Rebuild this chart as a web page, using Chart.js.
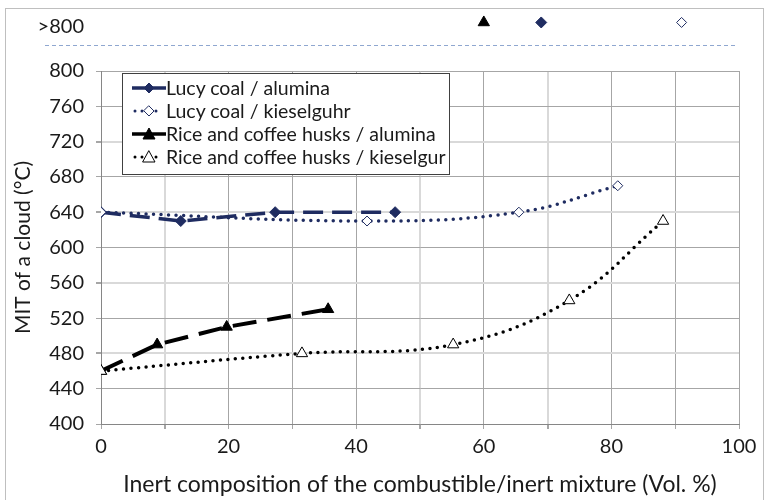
<!DOCTYPE html>
<html>
<head>
<meta charset="utf-8">
<script src="https://cdn.jsdelivr.net/npm/chart.js@4.4.1/dist/chart.umd.min.js"></script>
<style>
  html, body { margin: 0; padding: 0; background: #fff; overflow: hidden; }
  #wrap { position: relative; width: 771px; height: 500px; }
  #frame { position: absolute; left: 5px; top: 8px; width: 757px; height: 520px; border: 1px solid #bfbfbf; }
  #legend {
    position: absolute; left: 122px; top: 73px; width: 326px; height: 98px;
    border: 1px solid #404040; background: #fff;
    font-family: Lato, sans-serif; font-size: 19.5px; color: #1a1a1a;
    padding-top: 2px; box-sizing: content-box;
  }
  .row { display: flex; align-items: center; height: 23px; }
  .row canvas { margin-left: 9px; margin-right: 0px; }
</style>
</head>
<body>
<div id="wrap">
  <div id="frame"></div>
  <canvas id="chart" width="771" height="500"></canvas>
  <div id="legend"></div>
</div>
<script>
// x = inert composition (vol. %), y = MIT of a cloud (°C)
const lucyAluminaX = [0, 12.5, 27.3, 46.1];
const lucyAluminaY = [640, 630, 640, 640];
const lucyKieselX = [0, 41.7, 65.5, 81];
const lucyKieselY = [640, 630, 640, 670];
const riceAluminaX = [0, 8.8, 19.7, 35.6];
const riceAluminaY = [460, 490, 510, 530];
const riceKieselX = [0, 31.5, 55.2, 73.4, 88.1];
const riceKieselY = [460, 480, 490, 540, 630];

// compositions where MIT was above 800 °C
const lucyAluminaAbove = [69];
const lucyKieselAbove = [91];
const riceAluminaAbove = [60];

const seriesNames = ['Lucy coal / alumina', 'Lucy coal / kieselguhr', 'Rice and coffee husks / alumina', 'Rice and coffee husks / kieselgur'];
const yTicks = [400, 440, 480, 520, 560, 600, 640, 680, 720, 760, 800];
const xTickLabels = [0, 20, 40, 60, 80, 100];

const OVER_ROW = 855;   // display row for ">800" markers
const OVER_LINE = 829;  // dashed separator

const NAVY = '#1f2c61';
const FONT = 'Lato, sans-serif';
const TEXT = '#1a1a1a';

const pts = (xs, ys) => xs.map((x, i) => ({ x, y: ys[i] }));
const over = xs => xs.map(x => ({ x, y: OVER_ROW }));

const styles = [
  { color: NAVY, fill: NAVY, point: 'rectRot', r: 5.5, dash: [20, 9], width: 3.5, tension: 0 },
  { color: NAVY, fill: '#fff', point: 'rectRot', r: 5, dash: [0, 7.5], width: 3.5, tension: 0.4 },
  { color: '#000', fill: '#000', point: 'triangle', r: 6.5, dash: [24, 11], width: 4, tension: 0 },
  { color: '#000', fill: '#fff', point: 'triangle', r: 6.5, dash: [0, 7.5], width: 3.5, tension: 0.4 },
];

const mainData = [
  pts(lucyAluminaX, lucyAluminaY),
  pts(lucyKieselX, lucyKieselY),
  pts(riceAluminaX, riceAluminaY),
  pts(riceKieselX, riceKieselY),
];
const overData = [over(lucyAluminaAbove), over(lucyKieselAbove), over(riceAluminaAbove), []];

const datasets = [];
mainData.forEach((d, i) => {
  const s = styles[i];
  datasets.push({
    label: seriesNames[i], data: d,
    borderColor: s.color, borderWidth: s.width, borderDash: s.dash, borderCapStyle: s.dash[0] === 0 ? 'round' : 'butt',
    tension: s.tension, pointStyle: s.point, pointRadius: s.r,
    pointBackgroundColor: s.fill, pointBorderColor: s.color, pointBorderWidth: 1,
    order: 4 - i
  });
});
overData.forEach((d, i) => {
  if (!d.length) return;
  const s = styles[i];
  datasets.push({
    label: seriesNames[i] + ' (>800)', data: d, showLine: false, clip: false, over: true,
    pointStyle: s.point, pointRadius: s.r, pointBackgroundColor: s.fill,
    pointBorderColor: s.color, pointBorderWidth: 1
  });
});

const lightX = [10, 50, 70];
const lightY = [480, 560, 640, 720];

// ">800" row above the plot: label, separator and the markers outside the y range
const overRowPlugin = {
  id: 'overRow',
  afterDatasetsDraw(chart) {
    const ctx = chart.ctx;
    const y = chart.scales.y;
    ctx.save();
    ctx.font = '20px ' + FONT;
    ctx.fillStyle = TEXT;
    ctx.textAlign = 'right';
    ctx.textBaseline = 'middle';
    ctx.fillText('>800', 84, y.getPixelForValue(850));
    ctx.strokeStyle = '#8fa7d0';
    ctx.lineWidth = 1;
    ctx.setLineDash([4, 3]);
    const ly = Math.round(y.getPixelForValue(OVER_LINE)) + 0.5;
    ctx.beginPath();
    ctx.moveTo(45, ly);
    ctx.lineTo(737, ly);
    ctx.stroke();
    ctx.restore();
    chart.data.datasets.forEach((ds, i) => {
      if (!ds.over) return;
      chart.getDatasetMeta(i).data.forEach(el => el.draw(ctx));
    });
  }
};

new Chart(document.getElementById('chart'), {
  type: 'line',
  data: { datasets },
  plugins: [overRowPlugin],
  options: {
    responsive: false,
    animation: false,
    layout: { padding: { top: 71, right: 32, left: 0, bottom: 0 } },
    plugins: { legend: { display: false }, tooltip: { enabled: false } },
    scales: {
      x: {
        type: 'linear', min: 0, max: 100,
        afterFit: s => { s.height = 76; },
        border: { color: '#868686' },
        grid: {
          color: c => lightX.includes(c.tick.value) ? '#d9d9d9' : '#a6a6a6',
          lineWidth: c => lightX.includes(c.tick.value) ? 2 : 1,
          tickLength: 5, tickColor: '#a6a6a6'
        },
        ticks: {
          stepSize: 10, autoSkip: false, maxRotation: 0, padding: 6,
          font: { family: FONT, size: 20 }, color: TEXT,
          callback: v => xTickLabels.includes(v) ? String(v) : ''
        },
        title: {
          display: true, text: 'Inert composition of the combustible/inert mixture (Vol. %)',
          font: { family: FONT, size: 23 }, color: TEXT, padding: { top: 0, bottom: 2 }
        }
      },
      y: {
        type: 'linear', min: 400, max: 800,
        afterFit: s => { s.width = 101; },
        afterBuildTicks: s => { s.ticks = yTicks.map(v => ({ value: v })); },
        border: { color: '#868686' },
        grid: {
          color: c => lightY.includes(c.tick.value) ? '#d9d9d9' : '#a6a6a6',
          lineWidth: c => lightY.includes(c.tick.value) ? 2 : 1,
          tickLength: 5, tickColor: '#a6a6a6'
        },
        ticks: { padding: 12, font: { family: FONT, size: 20 }, color: TEXT },
        title: {
          display: true, text: 'MIT of a cloud (°C)',
          font: { family: FONT, size: 21 }, color: TEXT, padding: { top: 11, bottom: 0 }
        }
      }
    }
  }
});

// legend with line + marker icons
const legend = document.getElementById('legend');
styles.forEach((s, i) => {
  const row = document.createElement('div');
  row.className = 'row';
  const c = document.createElement('canvas');
  c.width = 34; c.height = 20;
  const g = c.getContext('2d');
  const dotted = s.dash[0] === 0;
  g.strokeStyle = s.color;
  g.lineWidth = dotted ? 3 : 3.5;
  g.lineCap = dotted ? 'round' : 'butt';
  g.setLineDash(dotted ? [0, 7] : []);
  g.beginPath();
  g.moveTo(dotted ? 3 : 0, 10);
  g.lineTo(dotted ? 31 : 34, 10);
  g.stroke();
  g.setLineDash([]);
  g.fillStyle = s.fill;
  g.lineWidth = 1;
  g.beginPath();
  if (s.point === 'rectRot') {
    g.moveTo(17, 5); g.lineTo(22, 10); g.lineTo(17, 15); g.lineTo(12, 10);
  } else {
    g.moveTo(17, 4); g.lineTo(23, 15); g.lineTo(11, 15);
  }
  g.closePath();
  g.fill();
  g.stroke();
  const t = document.createElement('span');
  t.textContent = seriesNames[i];
  row.appendChild(c);
  row.appendChild(t);
  legend.appendChild(row);
});
</script>
</body>
</html>
